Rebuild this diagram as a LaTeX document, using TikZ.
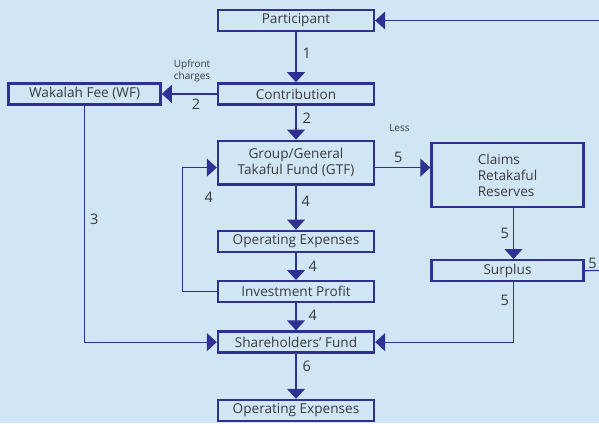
\documentclass[tikz,border=0pt]{standalone}
\usepackage{fontspec}
\setmainfont{Open Sans}
\usetikzlibrary{positioning,arrows.meta}

\definecolor{bgblue}{RGB}{208,230,244}
\definecolor{navy}{RGB}{46,49,146}
\definecolor{txt}{RGB}{58,58,62}

\begin{document}
\begin{tikzpicture}[
    x=1pt, y=-1pt,
    >={Triangle[length=10pt,width=18pt]},
    every node/.style={font=\fontsize{13.6}{16}\selectfont, text=txt, align=center},
    box/.style={draw=navy, line width=2.4pt, minimum width=156pt, minimum height=21pt, inner sep=1pt, fill=bgblue},
    flow/.style={->, draw=navy, line width=1.2pt},
    num/.style={font=\fontsize{14.5}{16}\selectfont, inner sep=1pt},
    note/.style={font=\fontsize{10}{12}\selectfont, inner sep=1pt}
]
\fill[bgblue] (0,0) rectangle (599,423);
\useasboundingbox (0,0) rectangle (599,423);

% main column
\node[box] (part) at (296,20.5) {Participant};
\node[box, below=50pt of part] (contrib) {Contribution};
\node[box, left=55pt of contrib, minimum width=152pt] (wf) {Wakalah Fee (WF)};
\node[box, below=34pt of contrib, minimum height=43.6pt] (gtf) {Group/General\\Takaful Fund (GTF)};
\node[box, below=44pt of gtf] (opex) {Operating Expenses};
\node[box, below=27pt of opex] (invest) {Investment Profit};
\node[box, below=27pt of invest] (share) {Shareholders' Fund};
\node[box, below=45pt of share] (opexb) {Operating Expenses};

% right column
\node[box, minimum width=152pt, minimum height=63.6pt, align=left] (claims) at (507.5,175) {Claims\\Retakaful\\Reserves};
\node[box, below=51pt of claims, minimum width=152pt] (surplus) {Surplus};

\coordinate (pin) at (599,20.5);
\coordinate (sout) at (599,270.5);

\draw[flow] (pin) -- (part.east);
\draw[flow] (part) -- (contrib) node[num, pos=0.42, right=5pt] {1};
\draw[flow] (contrib) -- (wf)
    node[note, pos=0.45, above=10pt] {Upfront\\charges}
    node[num, pos=0.38, below=3pt] {2};
\draw[flow] (contrib) -- (gtf) node[num, pos=0.38, right=5pt] {2};
\draw[flow] ([yshift=-5pt]gtf.east) -- ([yshift=-5pt]gtf.east -| claims.west)
    node[num, pos=0.42, above=3pt] (five) {5}
    node[note, pos=0.44, above=34pt] {Less};
\draw[flow] (gtf) -- (opex) node[num, pos=0.36, right=4pt] {4};
\draw[flow] (opex) -- (invest) node[num, pos=0.5, right=11pt] {4};
\draw[flow] (invest) -- (share) node[num, pos=0.45, right=11pt] {4};
\draw[flow] (share) -- (opexb) node[num, pos=0.28, right=5pt] {6};
\draw[flow] (invest.west) -- ++(-34,0) |- ([yshift=-5pt]gtf.west)
    node[num, pos=0.5, xshift=26pt, yshift=-30pt] {4};
\draw[flow] (wf.south) |- (share.west) node[num, pos=0.24, right=4pt] {3};
\draw[flow] ([xshift=6pt]claims.south) -- ([xshift=6pt]claims.south |- surplus.north)
    node[num, pos=0.5, left=3pt] {5};
\draw[flow] ([xshift=6pt]surplus.south) |- (share.east) node[num, pos=0.15, left=3pt] {5};
\draw[navy, line width=1.2pt] (surplus.east) -- (sout) node[num, pos=0.55, above=0pt] {5};
\end{tikzpicture}
\end{document}
